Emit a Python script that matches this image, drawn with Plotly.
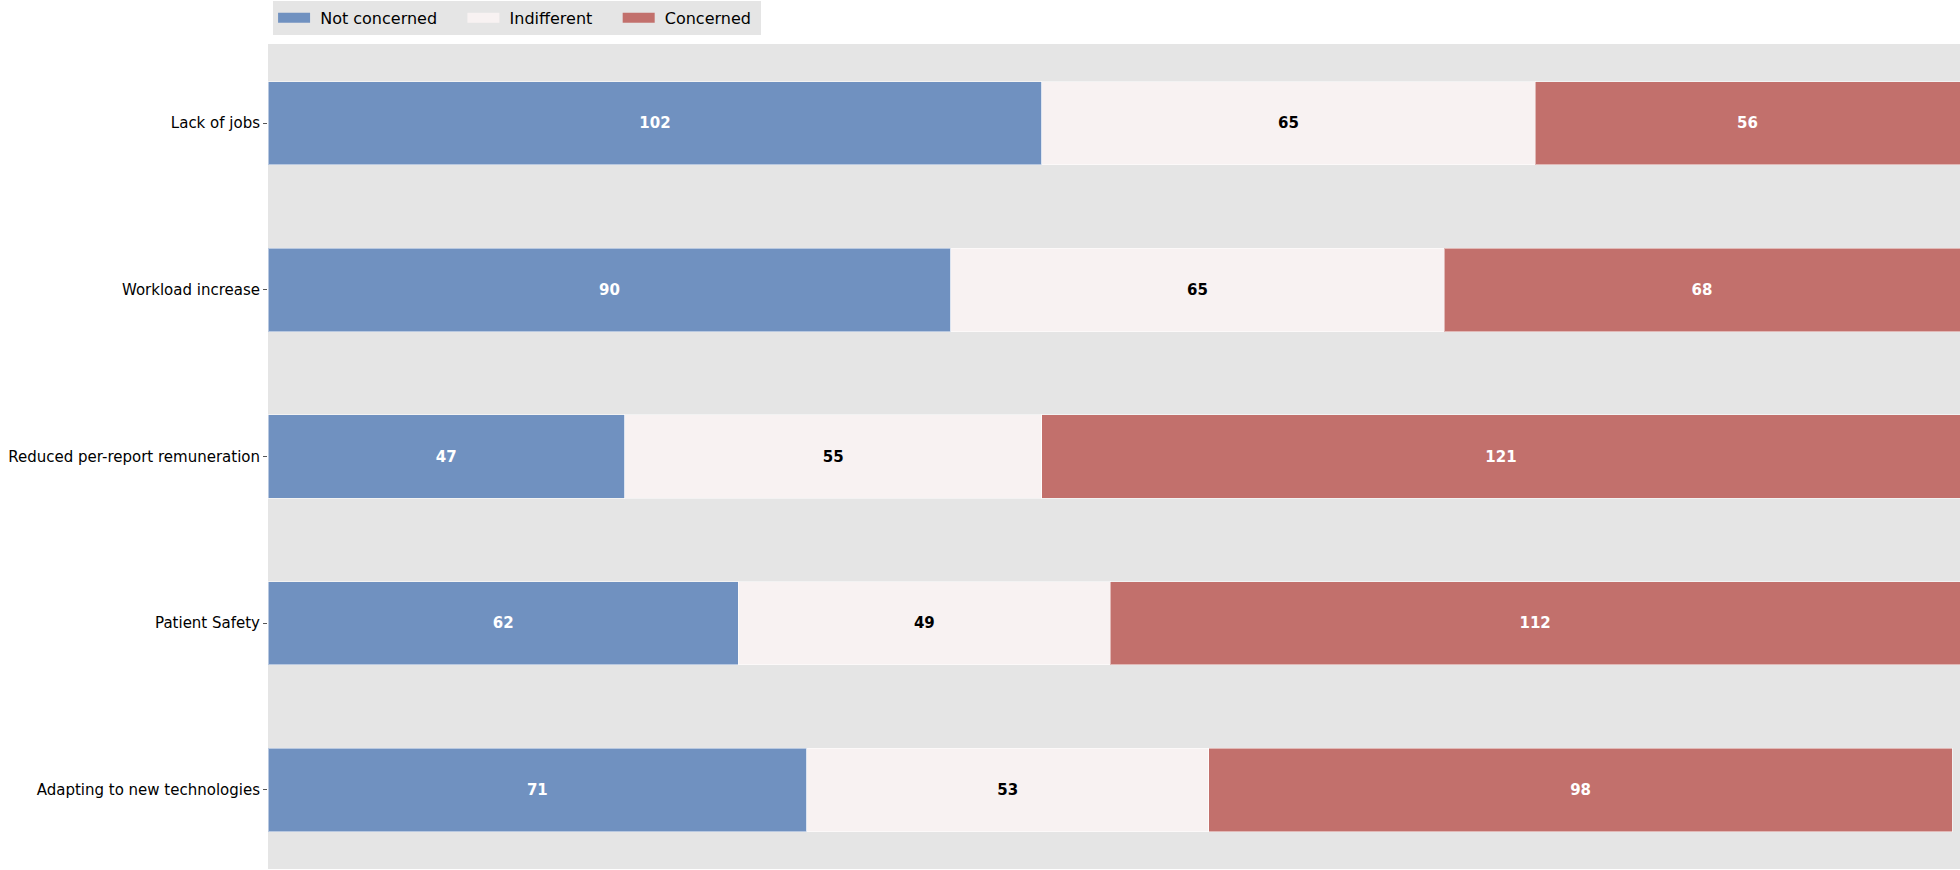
import plotly.graph_objects as go

categories = ["Lack of jobs", "Workload increase", "Reduced per-report remuneration",
              "Patient Safety", "Adapting to new technologies"]
not_concerned = [102, 90, 47, 62, 71]
indifferent = [65, 65, 55, 49, 53]
concerned = [56, 68, 121, 112, 98]
legend_labels = ["\u00a0Not concerned\u00a0\u00a0\u00a0\u00a0",
                 "\u00a0Indifferent\u00a0\u00a0\u00a0\u00a0",
                 "\u00a0Concerned\u00a0"]

series = [
    ("Not concerned", not_concerned, "#7091c0", "white"),
    ("Indifferent", indifferent, "#f8f2f2", "black"),
    ("Concerned", concerned, "#c2706c", "white"),
]

fig = go.Figure()
for name, vals, color, tcolor in series:
    fig.add_trace(go.Bar(
        y=categories, x=vals, name=name, orientation="h",
        marker=dict(color=color, line=dict(color="rgba(255,255,255,0.5)", width=1)),
        text=[str(v) for v in vals], textposition="inside", insidetextanchor="middle",
        textfont=dict(color=tcolor, size=15, family="DejaVu Sans"),
        texttemplate="<b>%{text}</b>",
        width=0.5, showlegend=False, legendgroup=name,
    ))
# legend swatches (wide rectangles like the reference)
for (name, vals, color, tcolor), lab in zip(series, legend_labels):
    fig.add_trace(go.Scatter(
        x=[None], y=[None], mode="lines", name=lab, legendgroup=name,
        line=dict(color=color, width=13), showlegend=True,
    ))

fig.update_layout(
    barmode="stack",
    width=1960, height=870,
    margin=dict(l=268, r=0, t=44, b=1, pad=0),
    plot_bgcolor="#e5e5e5",
    paper_bgcolor="white",
    font=dict(family="DejaVu Sans", size=15, color="black"),
    showlegend=True,
    legend=dict(orientation="h", x=0.003, xanchor="left", y=1.011, yanchor="bottom",
                bgcolor="#e5e5e5", font=dict(size=16, family="DejaVu Sans"),
                traceorder="normal", itemwidth=32, tracegroupgap=0),
)
fig.update_xaxes(range=[0, 223], showgrid=False, zeroline=False, showticklabels=False,
                 ticks="", showline=False, fixedrange=True)
fig.update_yaxes(autorange=False, range=[4.475, -0.475], showgrid=False, zeroline=False,
                 ticks="outside", ticklen=4, tickcolor="#555", tickwidth=1,
                 tickfont=dict(size=15, family="DejaVu Sans", color="black"),
                 categoryorder="array", categoryarray=categories, showline=False)

fig.write_html("out.html", config={"responsive": False, "displayModeBar": False},
               post_script="document.body.style.margin='0';document.body.style.overflow='hidden';")
